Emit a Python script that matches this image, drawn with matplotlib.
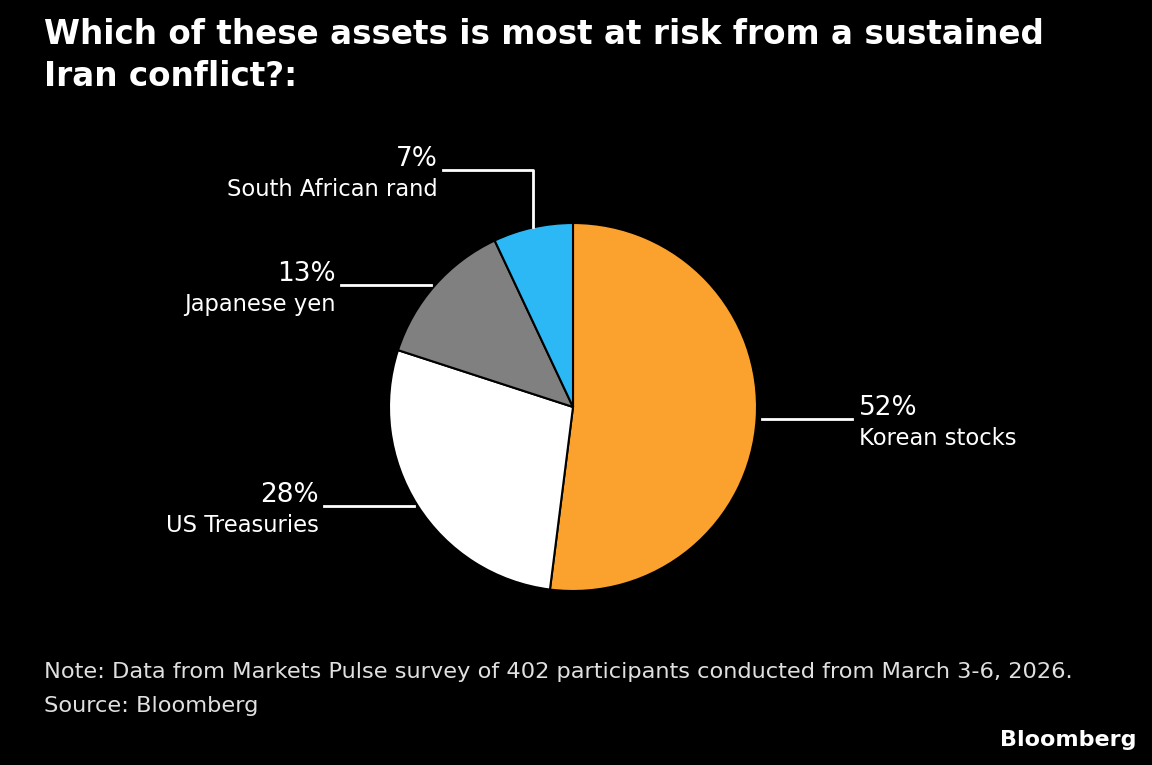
import numpy as np
import matplotlib
matplotlib.use("Agg")
import matplotlib.pyplot as plt

# survey shares, clockwise from 12 o'clock
assets = ["Korean stocks", "US Treasuries", "Japanese yen", "South African rand"]
shares = [52, 28, 13, 7]
colors = ["#FBA12E", "#FFFFFF", "#808080", "#2BB8F5"]

title = "Which of these assets is most at risk from a sustained\nIran conflict?:"
note = "Note: Data from Markets Pulse survey of 402 participants conducted from March 3-6, 2026."
source = "Source: Bloomberg"

W, H = 1152, 765
plt.rcParams["font.family"] = ["DejaVu Sans"]

fig = plt.figure(figsize=(W / 100, H / 100), dpi=100, facecolor="black")
ax = fig.add_axes([0, 0, 1, 1])
ax.set_facecolor("black")

cx, cy, r = 573, H - 407, 184
wedges, _ = ax.pie(shares, colors=colors, startangle=90, counterclock=False,
                   center=(cx, cy), radius=r, frame=True,
                   wedgeprops=dict(edgecolor="black", linewidth=1.5))
ax.set_xlim(0, W)
ax.set_ylim(0, H)
ax.set_aspect("auto")
ax.axis("off")

line_len = 90
for w, name, val in zip(wedges, assets, shares):
    mid = np.deg2rad((w.theta1 + w.theta2) / 2)
    x0 = cx + r * np.cos(mid)
    y0 = cy + r * np.sin(mid)
    if name == "South African rand":
        # elbow leader: up from the rim, then left
        y1 = y0 + 57
        ax.plot([x0, x0, x0 - line_len], [y0, y1, y1], color="white", lw=2)
        xt, yt, ha = x0 - line_len - 5, y1, "right"
    elif np.cos(mid) > 0:
        ax.plot([x0 + 5, x0 + 5 + line_len], [y0, y0], color="white", lw=2)
        xt, yt, ha = x0 + line_len + 12, y0, "left"
    else:
        ax.plot([x0 - 4, x0 - 4 - line_len], [y0, y0], color="white", lw=2)
        xt, yt, ha = x0 - line_len - 9, y0, "right"
    ax.text(xt, yt - 2, f"{val}%", color="white", fontsize=19, ha=ha, va="bottom")
    ax.text(xt, yt - 8, name, color="white", fontsize=16.3, ha=ha, va="top")

fig.text(44 / W, 1 - 18 / H, title, color="white", fontsize=23.5, fontweight="bold",
         ha="left", va="top", linespacing=1.33)
fig.text(44 / W, 1 - 672 / H, note, color="#E0E0E0", fontsize=16.2, ha="left", va="center")
fig.text(44 / W, 1 - 706 / H, source, color="#E0E0E0", fontsize=16.2, ha="left", va="center")
fig.text(1137 / W, 1 - 740 / H, "Bloomberg", color="white", fontsize=16,
         fontweight="bold", ha="right", va="center")

fig.savefig("out.png", dpi=100, facecolor="black")
